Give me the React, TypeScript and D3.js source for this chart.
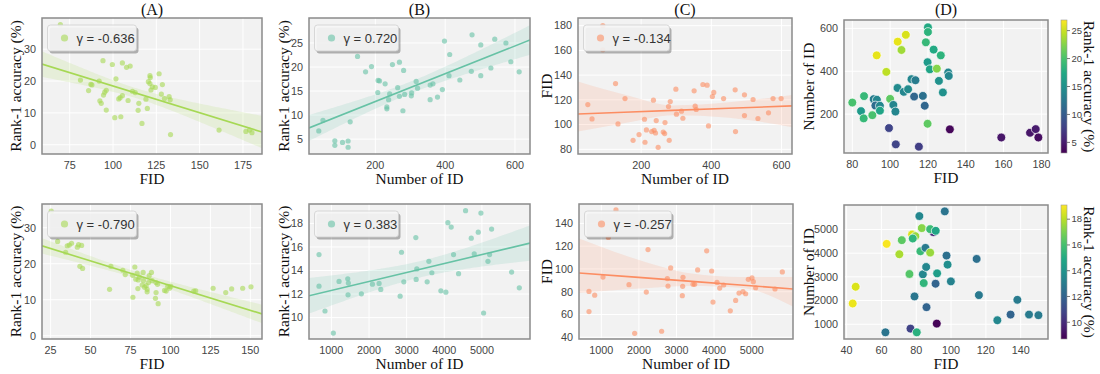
import React from 'react'
import * as d3 from 'd3'

// ---- values ----
// top row
const topA_fid = [69.6, 81.2, 87.2, 87.8, 85.9, 92, 94.2, 99.6, 101.7, 105.4, 107.8, 109.9, 92.4, 93.2, 94.5, 95.2, 96.1, 96.1, 101, 104.5, 103.3, 104.1, 105.4, 108.7, 111.2, 112.8, 114.9, 114.5, 116.7, 119, 119.8, 120.4, 121.3, 121.5, 121.3, 121.9, 122.7, 124.4, 126.6, 128.5, 127.9, 129.7, 132.4, 133, 133.2, 161.2, 176.7, 178.8, 180.2]
const topA_acc = [37.7, 20.3, 19, 18.8, 17, 20, 26.4, 25.2, 20.7, 25.7, 24.3, 24.7, 13.8, 13, 15.6, 16.5, 17.1, 10.9, 8.5, 8.8, 14.4, 14.8, 15.4, 13.9, 16.8, 16.4, 13, 10.8, 6.7, 14.3, 11.4, 19.8, 21.7, 21.1, 19.2, 17.2, 18.2, 18, 22.3, 18.9, 15.9, 14.5, 15.1, 14.1, 3.2, 4.6, 4.2, 4.6, 3.8]

const topB_id = [38, 50, 84, 84, 106, 122, 122, 128, 149, 172, 189, 208, 212, 207, 228, 233, 233, 238, 241, 249, 264, 269, 269, 281, 284, 279, 304, 303, 317, 321, 357, 357, 365, 378, 392, 398, 411, 413, 442, 475, 477, 502, 502, 531, 542, 574, 588, 612]
const topB_acc = [6.7, 8.9, 4.65, 3.7, 4.3, 4.6, 3.3, 8.6, 22.2, 19, 20.1, 17.2, 17.1, 14.7, 16.5, 11.7, 11.3, 13.2, 14.4, 20.5, 15.7, 21, 13.9, 19.3, 14.3, 10.9, 14.6, 14, 17, 15.6, 13.2, 16.25, 16.5, 13.75, 15.3, 25.4, 18.2, 22.6, 17.3, 19.1, 26.7, 18.2, 24.6, 19.8, 25.8, 25, 21.1, 19]

const topC_id = [90.7, 90.7, 48, 60, 127, 134, 154, 177, 194, 209.5, 211, 215, 230, 235, 237, 241, 243, 248.5, 263, 267, 268, 278, 283, 280, 299, 300.7, 315, 319, 351, 354, 357, 376, 388, 392, 403, 407, 435, 468, 469, 494.5, 494.5, 519, 533, 563, 576, 599]
const topC_fid = [180, 160.5, 116.2, 104.6, 133.2, 100.5, 121, 87.3, 91.9, 104.3, 85.7, 95.7, 94.3, 119.7, 95.4, 93.2, 103.2, 81.6, 94, 92.7, 101.6, 114.6, 118.6, 87.3, 128.6, 108.4, 110.8, 105.1, 127.3, 114.9, 112.2, 132.4, 131.9, 98.9, 122.7, 126, 121, 128.1, 94.3, 124.1, 107.3, 120.3, 104.9, 109.5, 121, 121]
// fitted line and bootstrap band of panel C as drawn in the figure
const topC_bandX = [20, 170, 290, 450, 630]
const topC_fitY = [108.6, 110.2, 111.5, 113.2, 115.1]
const topC_lo = [94.3, 102, 107.5, 105.5, 97.8]
const topC_hi = [134.9, 123, 115.5, 118, 124]

const topD_fid = [80, 86.2, 84.6, 86, 90.6, 91.3, 93, 92.2, 94.6, 94.6, 92.9, 98, 100, 99.4, 101.7, 102.8, 103.9, 104, 106, 108.3, 103, 107.2, 109.5, 111.3, 113.4, 112.7, 115.2, 117.3, 118.3, 118.9, 120, 120, 119.8, 121, 119.8, 123, 124.7, 125.8, 126.8, 127.9, 130.7, 131, 131.6, 158.8, 174, 177, 178.4]
const topD_id = [254, 284, 214, 180, 195, 270, 267, 240, 239, 216, 474, 397, 271, 135, 243, 212, 322, 538, 499, 570, 59, 304, 316, 363, 358, 282, 48, 285, 239, 535, 605, 583, 442, 409, 155, 501, 412, 355, 474, 301, 394, 378, 129, 91, 113, 130, 91]
const topD_acc = [20, 19, 16, 19, 20, 13, 14, 11.5, 14, 17, 26, 24.5, 21, 8, 14, 14, 14.5, 26, 23.5, 25.5, 8, 14, 14.5, 14, 13, 11, 7.5, 12, 11, 19, 17.5, 18.5, 16, 17, 21, 17.5, 22.5, 15, 18.5, 15, 14, 14, 3.5, 4.5, 4.5, 4.8, 4]

// bottom row
const botA_fid = [25.4, 29.4, 34.4, 35.4, 36.7, 38.1, 41.7, 42.5, 44.4, 43.3, 45, 61.9, 62.7, 70.2, 71.7, 76.3, 76.5, 77.7, 78.3, 79.2, 79.6, 79.8, 80.6, 82.3, 82.9, 83.1, 83.8, 84.8, 85.4, 85.4, 86.3, 86.7, 88.1, 88.5, 91, 91, 90.6, 92.3, 91.9, 96.3, 97.3, 98.3, 99.4, 100.2, 114.6, 115.8, 126.7, 134.6, 138.3, 145.2, 150.4]
const botA_acc = [34.6, 26.2, 23.2, 25, 25.2, 25.7, 24.6, 25.3, 25.1, 19.3, 18.7, 12.9, 19.3, 18.2, 17, 16.8, 10.7, 19.1, 15.7, 17.4, 13.1, 15.5, 16.3, 14.1, 17.6, 15.3, 13.5, 13.9, 12.9, 12.2, 14.8, 16.7, 17.6, 15.3, 14.8, 12, 10.4, 8.9, 14.3, 12.6, 12.4, 13.7, 13.2, 13.7, 12.4, 12.5, 13.2, 12, 13, 13.2, 13.6]

const botB_id = [672, 672, 831, 1053, 1204, 1435, 1452, 1443, 1798, 2091, 2268, 2313, 2827, 2863, 2925, 3244, 3270, 3253, 3545, 3590, 3670, 3909, 4042, 4095, 4184, 4246, 4379, 4565, 4716, 4796, 4902, 4973, 5044, 5160, 5204, 5257, 5789, 5993]
const botB_acc = [15.35, 12.67, 10.56, 8.68, 13.07, 13.3, 12.93, 11.93, 12.02, 12.84, 12.9, 12.39, 11.82, 15.55, 13.04, 16.8, 14.13, 13.24, 13.04, 14.78, 13.81, 12.27, 12.16, 18.06, 17.69, 15.35, 13.73, 19.08, 16.75, 15.41, 17.26, 18.88, 10.39, 14.78, 15.35, 17.52, 13.87, 12.53]

const botC_id = [1390, 1186, 672, 672, 823, 1044, 1736, 1887, 2197, 2242, 2605, 2756, 2774, 2845, 3173, 3164, 3155, 3439, 3483, 3563, 3803, 3936, 3971, 4078, 4149, 4255, 4432, 4574, 4663, 4769, 4840, 4911, 5009, 5044, 5106, 5621, 5816]
const botC_fid = [151.8, 127.6, 80.3, 62.6, 77, 92.9, 86.2, 43.5, 79.7, 117, 45.3, 91.5, 85, 100.9, 92.6, 84.7, 76.5, 86.5, 86.5, 99.1, 115.9, 98.2, 70.9, 88.2, 83.2, 85.9, 63.2, 72.4, 78.8, 80, 78.2, 90.9, 92.1, 88.8, 83.5, 82.4, 97.4]
const botC_bandX = [406, 1900, 3400, 4700, 6100]
const botC_fitY = [96.5, 92.8, 89.1, 85.9, 82.4]
const botC_lo = [78.8, 82.5, 85, 83.5, 67]
const botC_hi = [126.8, 109, 96, 93, 93]

const botD_fid = [43.5, 45.2, 63, 62.3, 70.3, 71.7, 76.1, 76.7, 77.6, 79, 79.5, 78, 80.3, 81.8, 82.4, 83.2, 83.8, 84.3, 85.3, 85.7, 85.9, 88, 89.9, 88, 91.2, 91.1, 92, 91.8, 96.4, 97.4, 98, 99.9, 114.7, 116, 126.6, 134.2, 138.1, 144.8, 150.2]
const botD_id = [1876, 2583, 4392, 660, 3954, 4548, 3120, 816, 4788, 2173, 4717, 4618, 660, 5565, 4081, 5057, 3106, 2739, 4223, 3417, 1720, 4025, 4887, 5014, 4944, 2710, 3148, 1028, 5763, 3898, 3516, 2809, 3756, 2230, 1170, 1410, 2032, 1410, 1382]
const botD_acc = [18.8, 18.5, 19, 12.7, 17.8, 16.5, 16.3, 10.8, 18.5, 12.8, 17.5, 15.5, 15.3, 13.5, 15.7, 17.2, 13.5, 15.5, 13, 13.5, 12, 17.5, 9.8, 15.8, 14.8, 12, 14.5, 8.8, 12.7, 12.5, 13.8, 13.3, 12.5, 12.9, 13.5, 12, 13, 13, 13]

const gammaLabels = ['γ = -0.636', 'γ = 0.720', 'γ = -0.134', 'γ = -0.790', 'γ = 0.383', 'γ = -0.257']
const titles = ['(A)', '(B)', '(C)', '(D)']

const GREEN = '#a6d854'
const TEAL = '#66c2a5'
const ORANGE = '#fc8d62'

const SERIF = '"Liberation Serif", "Times New Roman", serif'
const SANS = '"Liberation Sans", Arial, sans-serif'
const TICK = '#444'
const BG = '#f2f2f2'
const SPINE = '#8a8a8a'

type Box = { x0: number, x1: number, y0: number, y1: number }

// least squares fit with a 95% band for the mean
function fit(xs: number[], ys: number[]) {
  const n = xs.length
  const mx = d3.mean(xs)!, my = d3.mean(ys)!
  let sxx = 0, sxy = 0
  xs.forEach((x, i) => { sxx += (x - mx) ** 2; sxy += (x - mx) * (ys[i] - my) })
  const b = sxy / sxx, a = my - b * mx
  const sse = d3.sum(xs, (x, i) => (ys[i] - a - b * x) ** 2)
  const s = Math.sqrt(sse / (n - 2))
  const t = 2.01
  return {
    f: (x: number) => a + b * x,
    half: (x: number) => t * s * Math.sqrt(1 / n + (x - mx) ** 2 / sxx),
  }
}

function Frame({ id, box, x, y, xTicks, yTicks, xLabel, yLabel, yLabelX, title, children }: any) {
  return (
    <g>
      <defs>
        <clipPath id={id}><rect x={box.x0} y={box.y0} width={box.x1 - box.x0} height={box.y1 - box.y0} /></clipPath>
      </defs>
      <rect x={box.x0} y={box.y0} width={box.x1 - box.x0} height={box.y1 - box.y0} fill={BG} />
      {xTicks.map((t: number) => <line key={'gx' + t} x1={x(t)} x2={x(t)} y1={box.y0} y2={box.y1} stroke="#fff" strokeWidth={1} />)}
      {yTicks.map((t: number) => <line key={'gy' + t} x1={box.x0} x2={box.x1} y1={y(t)} y2={y(t)} stroke="#fff" strokeWidth={1} />)}
      <g clipPath={`url(#${id})`}>{children}</g>
      <rect x={box.x0} y={box.y0} width={box.x1 - box.x0} height={box.y1 - box.y0} fill="none" stroke={SPINE} strokeWidth={1.5} />
      {xTicks.map((t: number) => (
        <text key={'tx' + t} x={x(t)} y={box.y1 + 14.5} textAnchor="middle" fontFamily={SANS} fontSize={10.8} fill={TICK}>{t}</text>
      ))}
      {yTicks.map((t: number) => (
        <text key={'ty' + t} x={box.x0 - 6} y={y(t)} dy="0.35em" textAnchor="end" fontFamily={SANS} fontSize={10.8} fill={TICK}>{t}</text>
      ))}
      <text x={(box.x0 + box.x1) / 2} y={box.y1 + 30} textAnchor="middle" fontFamily={SERIF} fontSize={15.5} fill="#111">{xLabel}</text>
      <text transform={`translate(${yLabelX},${(box.y0 + box.y1) / 2}) rotate(-90)`} textAnchor="middle" dominantBaseline="central" fontFamily={SERIF} fontSize={15.5} fill="#111">{yLabel}</text>
      {title && <text x={(box.x0 + box.x1) / 2} y={15} textAnchor="middle" fontFamily={SERIF} fontSize={16} fill="#111">{title}</text>}
    </g>
  )
}

function RegPanel(p: any) {
  const box: Box = p.box
  const x = d3.scaleLinear().domain(p.xDom).range([box.x0, box.x1])
  const y = d3.scaleLinear().domain(p.yDom).range([box.y1, box.y0])
  let band: string | null, line: string | null
  if (p.bandX) {
    // band and fit taken from the figure
    const idx = d3.range(p.bandX.length)
    band = d3.area<number>().curve(d3.curveMonotoneX).x(i => x(p.bandX[i])).y0(i => y(p.lo[i])).y1(i => y(p.hi[i]))(idx)
    line = d3.line<number>().x(i => x(p.bandX[i])).y(i => y(p.fitY[i]))(idx)
  } else {
    const m = fit(p.xs, p.ys)
    const grid = d3.range(0, 101).map(i => p.xDom[0] + (p.xDom[1] - p.xDom[0]) * i / 100)
    band = d3.area<number>().x(v => x(v)).y0(v => y(m.f(v) - m.half(v))).y1(v => y(m.f(v) + m.half(v)))(grid)
    line = d3.line<number>().x(v => x(v)).y(v => y(m.f(v)))([p.xDom[0], p.xDom[1]])
  }
  const lx = box.x0 + 5.5, ly = box.y0 + 7, lw = p.legendW, lh = 26
  return (
    <Frame {...p} x={x} y={y}>
      {p.xs.map((v: number, i: number) => (
        <circle key={i} cx={x(v)} cy={y(p.ys[i])} r={2.6} fill={p.color} fillOpacity={0.6} />
      ))}
      <path d={band!} fill={p.color} fillOpacity={0.16} />
      <path d={line!} stroke={p.color} strokeWidth={1.6} fill="none" />
      <rect x={lx + 2} y={ly + 2.5} width={lw} height={lh} rx={3} fill="#000" fillOpacity={0.28} />
      <rect x={lx} y={ly} width={lw} height={lh} rx={3} fill="#f6f6f6" fillOpacity={0.9} stroke="#cfcfcf" strokeWidth={0.8} />
      <circle cx={lx + 17} cy={ly + lh / 2} r={3.6} fill={p.color} fillOpacity={0.6} />
      <text x={lx + 29} y={ly + lh / 2} dy="0.36em" fontFamily={SANS} fontSize={13} fill="#333">{p.gamma}</text>
    </Frame>
  )
}

function ColorPanel(p: any) {
  const box: Box = p.box
  const x = d3.scaleLinear().domain(p.xDom).range([box.x0, box.x1])
  const y = d3.scaleLinear().domain(p.yDom).range([box.y1, box.y0])
  const c = d3.scaleSequential(d3.interpolateViridis).domain(p.cDom)
  const cy = d3.scaleLinear().domain(p.cDom).range([box.y1, box.y0])
  const cb = { x0: box.x1 + 13, x1: box.x1 + 19 }
  const gid = p.id + '-grad'
  return (
    <g>
      <Frame {...p} x={x} y={y}>
        {p.xs.map((v: number, i: number) => (
          <circle key={i} cx={x(v)} cy={y(p.ys[i])} r={4.4} fill={c(p.cs[i])} stroke="#fff" strokeWidth={0.7} />
        ))}
      </Frame>
      <defs>
        <linearGradient id={gid} x1="0" y1="1" x2="0" y2="0">
          {d3.range(0, 11).map(i => <stop key={i} offset={i / 10} stopColor={d3.interpolateViridis(i / 10)} />)}
        </linearGradient>
      </defs>
      <rect x={cb.x0} y={box.y0} width={cb.x1 - cb.x0} height={box.y1 - box.y0} fill={`url(#${gid})`} stroke="#999" strokeWidth={0.6} />
      {p.cTicks.map((t: number) => (
        <g key={t}>
          <line x1={cb.x1} x2={cb.x1 + 3} y1={cy(t)} y2={cy(t)} stroke="#555" strokeWidth={0.8} />
          <text x={cb.x1 + 4.5} y={cy(t)} dy="0.35em" fontFamily={SANS} fontSize={9.5} fill={TICK}>{t}</text>
        </g>
      ))}
      <text transform={`translate(${box.x1 + 41},${(box.y0 + box.y1) / 2}) rotate(90)`} textAnchor="middle" dominantBaseline="central" fontFamily={SERIF} fontSize={15.5} fill="#111">Rank-1 accuracy (%)</text>
    </g>
  )
}

export default function App() {
  const acc = 'Rank-1 accuracy (%)'
  return (
    <svg width={1100} height={374} style={{ position: 'absolute', left: 0, top: 0, background: '#fff' }}>
      <RegPanel id="ta" box={{ x0: 42, x1: 262, y0: 18, y1: 154 }} xDom={[59, 186]} yDom={[-2.9, 39.8]}
        xTicks={[75, 100, 125, 150, 175]} yTicks={[0, 10, 20, 30]} xs={topA_fid} ys={topA_acc} color={GREEN}
        gamma={gammaLabels[0]} legendW={89} xLabel="FID" yLabel={acc} yLabelX={15} title={titles[0]} />
      <RegPanel id="tb" box={{ x0: 309, x1: 530, y0: 18, y1: 154 }} xDom={[10, 643]} yDom={[1.9, 30.2]}
        xTicks={[200, 400, 600]} yTicks={[5, 10, 15, 20, 25]} xs={topB_id} ys={topB_acc} color={TEAL}
        gamma={gammaLabels[1]} legendW={84} xLabel="Number of ID" yLabel={acc} yLabelX={283} title={titles[1]} />
      <RegPanel id="tc" box={{ x0: 578, x1: 792, y0: 18, y1: 154 }} xDom={[20, 630]} yDom={[76.2, 186.2]}
        xTicks={[200, 400, 600]} yTicks={[80, 100, 120, 140, 160, 180]} xs={topC_id} ys={topC_fid} color={ORANGE}
        bandX={topC_bandX} fitY={topC_fitY} lo={topC_lo} hi={topC_hi}
        gamma={gammaLabels[2]} legendW={86} xLabel="Number of ID" yLabel="FID" yLabelX={546} title={titles[2]} />
      <ColorPanel id="td" box={{ x0: 844, x1: 1048, y0: 20, y1: 153 }} xDom={[75.6, 183.5]} yDom={[18.6, 639]}
        xTicks={[80, 100, 120, 140, 160, 180]} yTicks={[200, 400, 600]} xs={topD_fid} ys={topD_id} cs={topD_acc}
        cDom={[3.1, 26.9]} cTicks={[5, 10, 15, 20, 25]} xLabel="FID" yLabel="Number of ID" yLabelX={808} title={titles[3]} />

      <RegPanel id="ba" box={{ x0: 42, x1: 262, y0: 204, y1: 339 }} xDom={[19.6, 157.3]} yDom={[-0.9, 36.6]}
        xTicks={[25, 50, 75, 100, 125, 150]} yTicks={[0, 10, 20, 30]} xs={botA_fid} ys={botA_acc} color={GREEN}
        gamma={gammaLabels[3]} legendW={89} xLabel="FID" yLabel={acc} yLabelX={15} />
      <RegPanel id="bb" box={{ x0: 309, x1: 530, y0: 204, y1: 339 }} xDom={[406, 6277]} yDom={[8.18, 19.65]}
        xTicks={[1000, 2000, 3000, 4000, 5000]} yTicks={[10, 12, 14, 16, 18]} xs={botB_id} ys={botB_acc} color={TEAL}
        gamma={gammaLabels[4]} legendW={84} xLabel="Number of ID" yLabel={acc} yLabelX={283} />
      <RegPanel id="bc" box={{ x0: 579, x1: 793, y0: 204, y1: 339 }} xDom={[406, 6100]} yDom={[38.5, 157]}
        xTicks={[1000, 2000, 3000, 4000, 5000]} yTicks={[40, 60, 80, 100, 120, 140]} xs={botC_id} ys={botC_fid} color={ORANGE}
        bandX={botC_bandX} fitY={botC_fitY} lo={botC_lo} hi={botC_hi}
        gamma={gammaLabels[5]} legendW={87} xLabel="Number of ID" yLabel="FID" yLabelX={546} />
      <ColorPanel id="bd" box={{ x0: 844, x1: 1048, y0: 205, y1: 339 }} xDom={[38.5, 155.7]} yDom={[378, 6032]}
        xTicks={[40, 60, 80, 100, 120, 140]} yTicks={[1000, 2000, 3000, 4000, 5000]} xs={botD_fid} ys={botD_id} cs={botD_acc}
        cDom={[8.7, 19.1]} cTicks={[10, 12, 14, 16, 18]} xLabel="FID" yLabel="Number of ID" yLabelX={808} />
    </svg>
  )
}
